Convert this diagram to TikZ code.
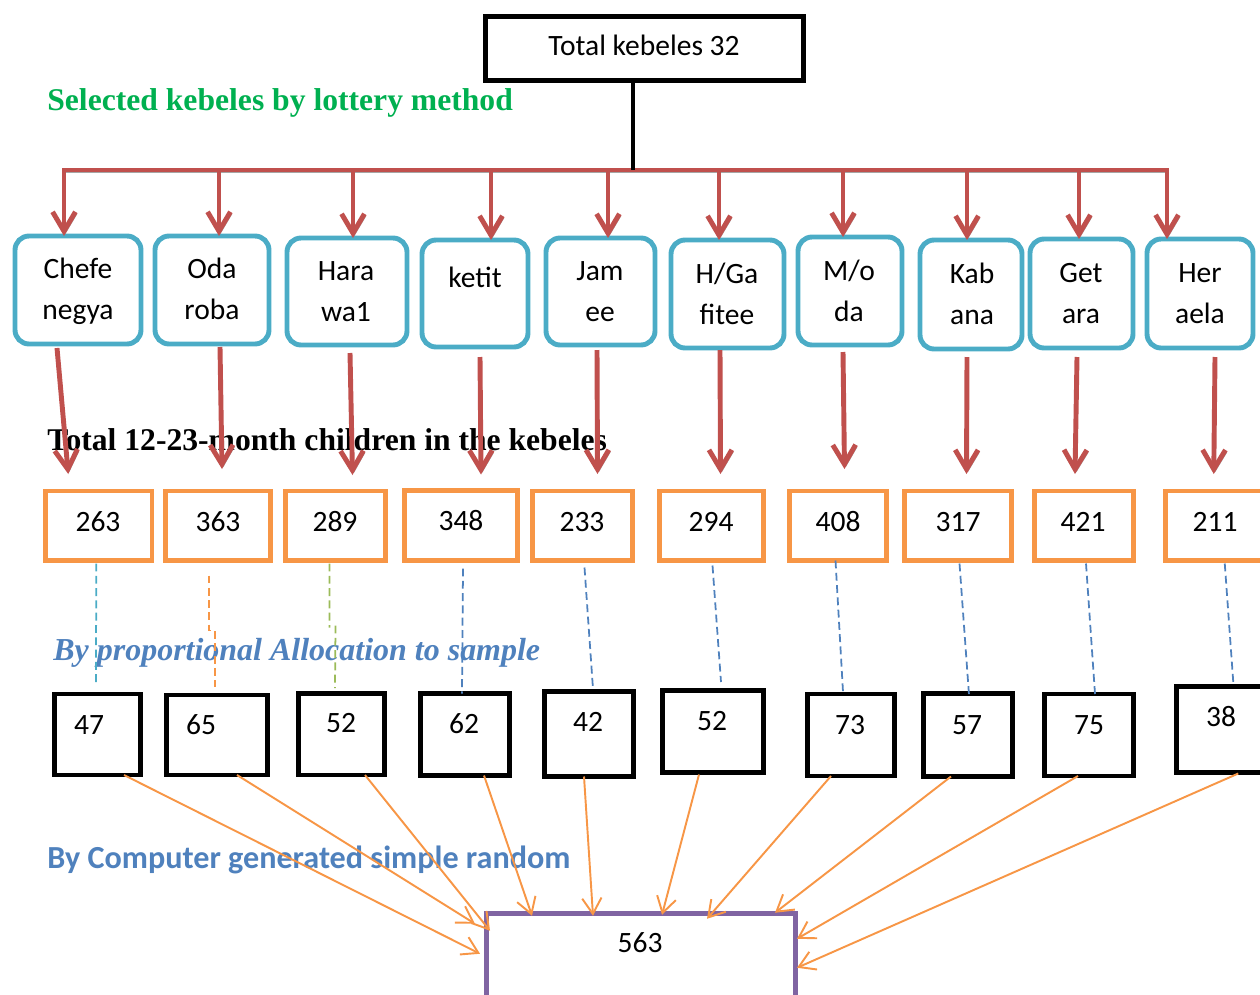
\documentclass[tikz,border=0pt]{standalone}
\usepackage{fontspec}
\setmainfont{Carlito}
\newfontfamily\tnr{Liberation Serif}
\usetikzlibrary{arrows.meta,calc,fit}
\definecolor{redc}{RGB}{192,80,77}
\definecolor{bluec}{RGB}{75,172,198}
\definecolor{orangec}{RGB}{247,150,70}
\definecolor{greenc}{RGB}{155,187,89}
\definecolor{blued}{RGB}{79,129,189}
\definecolor{titlegreen}{RGB}{0,176,80}
\definecolor{purplec}{RGB}{128,100,162}
\begin{document}
\begin{tikzpicture}[x=0.02cm,y=-0.02cm,
  box/.style={inner sep=0pt, outer sep=0pt},
  kbox/.style={box, draw=bluec, line width=2.8pt, rounded corners=8pt},
  obox/.style={box, draw=orangec, line width=2.8pt},
  bbox/.style={box, draw=black, line width=2.8pt},
  txt/.style={anchor=base, inner sep=0pt, font=\fontsize{16.8}{23.8}\selectfont},
  shadowed/.style={preaction={draw=gray!70, transform canvas={xshift=0.8pt,yshift=-1.3pt}}},
  redline/.style={draw=redc, line width=2.8pt, shadowed},
  redarr/.style={redline, -{Straight Barb[length=11pt,width=13pt]}},
  oarr/.style={draw=orangec, line width=1.1pt, -{Straight Barb[length=9pt,width=11pt]}},
  dsh/.style={line width=1pt, dash pattern=on 4.5pt off 2.5pt},
  ttl/.style={anchor=base west, inner sep=0pt, font=\tnr\bfseries\fontsize{18}{20}\selectfont}
]
\newcommand{\twol}[2]{\begin{tabular}[t]{@{}c@{}}#1\\#2\end{tabular}}
\useasboundingbox (0,0) rectangle (1260,994);

% titles
\node[ttl, text=titlegreen] (sel) at (47,110) {Selected kebeles by lottery method};
\node[ttl, text=black] (tot12) at (47,450) {Total 12-23-month children in the kebeles};
\node[ttl, text=blued, font=\tnr\bfseries\itshape\fontsize{18.2}{20}\selectfont] (prop) at (53,660) {By proportional Allocation to sample};
\node[anchor=base west, inner sep=0pt, text=blued, font=\bfseries\fontsize{18.3}{20}\selectfont] (comp) at (47,868) {By Computer generated simple random};

% top box
\node[bbox, fit={(485.5,16.5)(803.5,80.5)}] (tk) {};
\node[txt] (tkt) at (644,55) {Total kebeles 32};

% kebele boxes
\node[kbox, fit={(15,236)(141,344)}] (k1) {};
\node[kbox, fit={(155,236)(269,344)}] (k2) {};
\node[kbox, fit={(287,238)(407,345)}] (k3) {};
\node[kbox, fit={(422,240)(528,347)}] (k4) {};
\node[kbox, fit={(546,238)(655,345)}] (k5) {};
\node[kbox, fit={(671,240)(784,348)}] (k6) {};
\node[kbox, fit={(798,237)(902,345)}] (k7) {};
\node[kbox, fit={(920,240)(1022,349)}] (k8) {};
\node[kbox, fit={(1030,239)(1133,348)}] (k9) {};
\node[kbox, fit={(1147,239)(1253,348)}] (k10) {};
\node[txt] (k1t) at (78,278) {\twol{Chefe}{negya}};
\node[txt] (k2t) at (212,278) {\twol{Oda}{roba}};
\node[txt] (k3t) at (346,280) {\twol{Hara}{wa1}};
\node[txt] (k4t) at (475,287) {ketit};
\node[txt] (k5t) at (600,280) {\twol{Jam}{ee}};
\node[txt] (k6t) at (727,283) {\twol{H/Ga}{fitee}};
\node[txt] (k7t) at (849,280) {\twol{M/o}{da}};
\node[txt] (k8t) at (972,283) {\twol{Kab}{ana}};
\node[txt] (k9t) at (1081,282) {\twol{Get}{ara}};
\node[txt] (k10t) at (1200,282) {\twol{Her}{aela}};

% children boxes
\node[obox, fit={(45.5,491)(152,560.5)}] (o1) {};
\node[obox, fit={(165.5,491)(270.5,560.5)}] (o2) {};
\node[obox, fit={(285.5,491)(385.5,560.5)}] (o3) {};
\node[obox, fit={(404.5,490.5)(517.5,560.5)}] (o4) {};
\node[obox, fit={(532.5,491)(632.5,560.5)}] (o5) {};
\node[obox, fit={(659.5,491)(763.5,560.5)}] (o6) {};
\node[obox, fit={(789.5,491)(886.5,560.5)}] (o7) {};
\node[obox, fit={(904.5,491)(1011.5,560.5)}] (o8) {};
\node[obox, fit={(1034.5,491)(1133.5,560.5)}] (o9) {};
\node[obox, fit={(1165.5,491)(1268,560.5)}] (o10) {};
\node[txt] (o1t) at (98,531) {263};
\node[txt] (o2t) at (218,531) {363};
\node[txt] (o3t) at (335,531) {289};
\node[txt] (o4t) at (461,530) {348};
\node[txt] (o5t) at (582,531) {233};
\node[txt] (o6t) at (711,531) {294};
\node[txt] (o7t) at (838,531) {408};
\node[txt] (o8t) at (958,531) {317};
\node[txt] (o9t) at (1083,531) {421};
\node[txt] (o10t) at (1215,531) {211};

% sample boxes
\node[bbox, fit={(54.5,694)(140.5,775)}] (b1) {};
\node[bbox, fit={(166.5,695)(267.5,775)}] (b2) {};
\node[bbox, fit={(298.5,693.5)(384.5,775)}] (b3) {};
\node[bbox, fit={(420.5,693.5)(509.5,775.5)}] (b4) {};
\node[bbox, fit={(544.5,691.5)(633.5,776.5)}] (b5) {};
\node[bbox, fit={(662.5,690.5)(763.5,772.5)}] (b6) {};
\node[bbox, fit={(807.5,694)(894.5,776)}] (b7) {};
\node[bbox, fit={(923.5,693.5)(1012.5,776.5)}] (b8) {};
\node[bbox, fit={(1044.5,694)(1133.5,776)}] (b9) {};
\node[bbox, fit={(1176.5,686.5)(1270,772.5)}] (b10) {};
\node[txt] (b1t) at (89,734) {47};
\node[txt] (b2t) at (201,734) {65};
\node[txt] (b3t) at (341,732) {52};
\node[txt] (b4t) at (464,733) {62};
\node[txt] (b5t) at (588,731) {42};
\node[txt] (b6t) at (712,730) {52};
\node[txt] (b7t) at (850,734) {73};
\node[txt] (b8t) at (967,734) {57};
\node[txt] (b9t) at (1089,734) {75};
\node[txt] (b10t) at (1221,726) {38};

% total sample box
\node[box, draw=purplec, line width=2.8pt, fit={(486.5,913.5)(795.5,998)}] (tot) {};
\node[txt] (tott) at (640,952) {563};

% tree from top box
\coordinate (hub) at (633,170);
\coordinate (hl) at (64,170);
\coordinate (hr) at (1167,170);
\coordinate (t1) at (64,170);
\coordinate (t2) at (219,170);
\coordinate (t3) at (353,170);
\coordinate (t4) at (491,170);
\coordinate (t5) at (608,170);
\coordinate (t6) at (719,170);
\coordinate (t7) at (843,170);
\coordinate (t8) at (967,170);
\coordinate (t9) at (1079,170);
\coordinate (t10) at (1167,170);
\draw[redline, line cap=rect] (hl) -- (hr);
\draw[line width=2.8pt] (tk.south -| hub) -- (hub);
\foreach \i in {1,...,10}{
  \draw[redarr] (t\i) -- (t\i |- k\i.north);
}

% arrows kebele -> children
\draw[redarr] ($(k1.south)+(-21,4)$) -- ($(o1.north)+(-30.5,-17)$);
\draw[redarr] ($(k2.south)+(8,3)$) -- ($(o2.north)+(4,-22)$);
\draw[redarr] ($(k3.south)+(3,8)$) -- ($(o3.north)+(17,-16)$);
\draw[redarr] ($(k4.south)+(5,10)$) -- ($(o4.north)+(20,-16)$);
\draw[redarr] ($(k5.south)+(-3.5,5)$) -- ($(o5.north)+(15,-17)$);
\draw[redarr] ($(k6.south)+(-7.5,2)$) -- ($(o6.north)+(9,-17)$);
\draw[redarr] ($(k7.south)+(-7,7)$) -- ($(o7.north)+(6.5,-22)$);
\draw[redarr] ($(k8.south)+(-4,8)$) -- ($(o8.north)+(8.5,-17)$);
\draw[redarr] ($(k9.south)+(-4.5,9)$) -- ($(o9.north)+(-9,-17)$);
\draw[redarr] ($(k10.south)+(15,9)$) -- ($(o10.north)+(-3,-17)$);

% dashed allocation lines
\draw[dsh, bluec] ($(o1.south)+(-2.5,3)$) -- ($(b1.north)+(-1.5,-11)$);
\draw[dsh, orangec] ($(o2.south)+(-9,15)$) -- ++(0,55) -- ++(6,0) -- ($(b2.north)+(-2,-8)$);
\draw[dsh, greenc] ($(o3.south)+(-6,3)$) -- ++(0,64) ++(6,-2) -- ($(b3.north)+(-6.5,-5.5)$);
\draw[dsh, blued] ($(o4.south)+(2,8)$) -- ($(b4.north)+(-3,0)$);
\draw[dsh, blued] ($(o5.south)+(2,7)$) -- ($(b5.north)+(4,-2.5)$);
\draw[dsh, blued] ($(o6.south)+(1,5)$) -- ($(b6.north)+(8,-8.5)$);
\draw[dsh, blued] ($(o7.south)+(-2.5,0)$) -- ($(b7.north)+(-8,-2)$);
\draw[dsh, blued] ($(o8.south)+(1.5,3)$) -- ($(b8.north)+(1,1.5)$);
\draw[dsh, blued] ($(o9.south)+(2,3)$) -- ($(b9.north)+(6,0)$);
\draw[dsh, blued] ($(o10.south)+(8,3)$) -- ($(b10.north)+(10,-4.5)$);

% arrows to total
\draw[oarr] ($(b1.south)+(26.5,0)$) -- ($(tot.center)+(-161,-2)$);
\draw[oarr] ($(b2.south)+(20,0)$) -- ($(tot.center)+(-166,-32)$);
\draw[oarr] ($(b3.south)+(23.5,0)$) -- ($(tot.center)+(-151,-25)$);
\draw[oarr] ($(b4.south)+(19,0)$) -- ($(tot.center)+(-109,-40)$);
\draw[oarr] ($(b5.south)+(-5,0)$) -- ($(tot.center)+(-48,-40)$);
\draw[oarr] ($(b6.south)+(-14,2)$) -- ($(tot.center)+(21,-41)$);
\draw[oarr] ($(b7.south)+(-20,0)$) -- ($(tot.center)+(66,-37)$);
\draw[oarr] ($(b8.south)+(-17,0)$) -- ($(tot.center)+(134,-43)$);
\draw[oarr] ($(b9.south)+(-11,0)$) -- ($(tot.center)+(156,-17)$);
\draw[oarr] ($(b10.south)+(15,1)$) -- ($(tot.center)+(156,12)$);
\end{tikzpicture}
\end{document}
